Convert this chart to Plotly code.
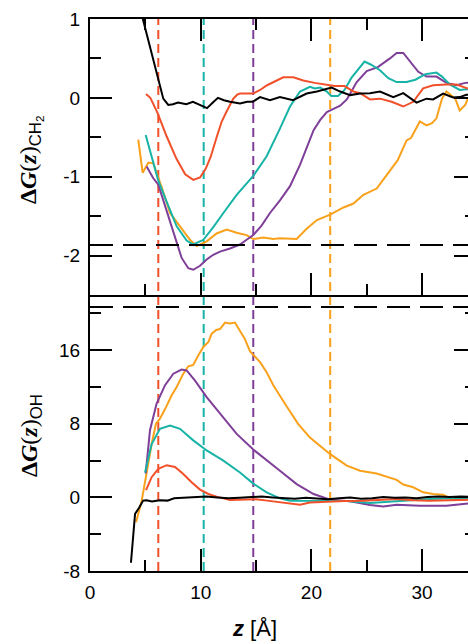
import plotly.graph_objects as go

# ---------------- data ----------------
# top panel: dG_CH2(z)
z_top_black = [4.5, 4.81, 5.69, 6.62, 7.07, 7.5, 7.95, 8.7, 9.3, 10.0, 10.57, 11.1, 11.56, 12.1, 12.65,
               13.55, 14.2, 14.7, 15.36, 16.26, 17.16, 18.34, 19.57, 20.5, 21.83, 22.6, 23.5, 24.4, 25.3,
               26.2, 27.4, 28.3, 29.5, 30.4, 31.0, 31.9, 32.8, 33.4, 34.0, 35.0]
g_top_black = [1.15, 0.98, 0.5, -0.01, -0.09, -0.08, -0.06, -0.08, -0.05, -0.09, -0.13, -0.06, 0.0, -0.03,
               -0.05, -0.07, -0.05, -0.05, 0.01, -0.03, 0.01, -0.03, 0.055, 0.08, 0.13, 0.08, 0.035, 0.055,
               0.06, 0.08, 0.01, 0.06, -0.06, -0.01, -0.02, 0.055, 0.005, 0.01, 0.04, 0.03]

z_top_red = [5.06, 5.45, 6.1, 6.93, 7.8, 8.6, 9.33, 9.94, 10.45, 10.9, 11.44, 11.9, 12.35, 12.95, 13.3, 13.55,
             14.75, 15.36, 16.0, 16.56, 17.46, 18.37, 19.27, 20.3, 21.4, 22.1, 23.0, 23.8, 24.4, 25.3, 26.2,
             27.25, 28.3, 29.2, 30.1, 31.0, 32.2, 33.1, 34.1, 35.0]
g_top_red = [0.05, 0.0, -0.19, -0.49, -0.77, -0.97, -1.04, -1.01, -0.9, -0.75, -0.5, -0.3, -0.17, -0.01,
             0.04, 0.055, 0.055, 0.1, 0.16, 0.2, 0.26, 0.26, 0.22, 0.19, 0.17, 0.15, 0.15, 0.08, 0.06, -0.02,
             -0.01, -0.05, -0.11, -0.05, 0.12, 0.16, 0.17, 0.17, 0.12, 0.1]

z_top_teal = [5.03, 5.57, 6.15, 6.93, 7.83, 8.73, 9.33, 10.24, 11.14, 12.05, 13.25, 14.75, 15.96, 17.16,
              18.07, 18.97, 19.87, 20.3, 20.8, 21.4, 21.8, 22.4, 23.0, 23.6, 24.2, 24.8, 25.4, 26.2, 26.95,
              27.7, 28.6, 29.4, 30.3, 31.3, 31.8, 32.5, 33.4, 34.0, 35.0]
g_top_teal = [-0.47, -0.75, -1.04, -1.32, -1.63, -1.81, -1.86, -1.8, -1.64, -1.46, -1.23, -0.99, -0.74,
              -0.39, -0.11, 0.08, 0.14, 0.12, 0.13, 0.08, 0.025, 0.025, 0.1, 0.25, 0.36, 0.46, 0.42, 0.35,
              0.25, 0.2, 0.2, 0.23, 0.3, 0.32, 0.27, 0.17, 0.1, 0.11, 0.1]

z_top_purple = [5.12, 5.72, 6.17, 6.93, 7.68, 8.28, 8.88, 9.33, 9.94, 10.54, 11.14, 11.74, 12.65, 13.55,
                14.15, 14.75, 15.5, 16.26, 17.16, 18.07, 18.97, 19.57, 20.2, 20.8, 21.4, 22.0, 22.6, 23.2,
                24.1, 25.0, 26.0, 27.1, 27.7, 28.3, 28.9, 29.66, 30.4, 31.3, 32.2, 33.1, 33.9, 35.0]
g_top_purple = [-0.87, -1.02, -1.1, -1.44, -1.76, -2.03, -2.16, -2.18, -2.13, -2.05, -1.99, -1.95, -1.91,
                -1.86, -1.8, -1.74, -1.62, -1.46, -1.3, -1.12, -0.85, -0.64, -0.41, -0.28, -0.18, -0.14,
                -0.1, -0.02, 0.2, 0.34, 0.39, 0.5, 0.57, 0.57, 0.46, 0.33, 0.27, 0.27, 0.19, 0.16, 0.19, 0.2]

z_top_orange = [4.36, 4.76, 5.27, 5.72, 6.47, 7.23, 8.13, 9.03, 9.64, 10.54, 11.44, 12.35, 13.25, 14.15,
                 14.75, 15.66, 16.56, 17.16, 18.67, 19.57, 20.5, 21.7, 22.9, 23.8, 24.7, 25.9, 26.8, 27.8,
                 28.6, 29.0, 29.8, 30.4, 30.9, 31.3, 31.8, 32.2, 33.0, 33.4, 33.9, 34.1, 35.0]
g_top_orange = [-0.53, -0.95, -0.82, -0.83, -1.13, -1.46, -1.63, -1.8, -1.88, -1.82, -1.72, -1.67, -1.71,
                -1.74, -1.79, -1.77, -1.79, -1.78, -1.79, -1.66, -1.55, -1.48, -1.39, -1.34, -1.23, -1.15,
                -0.98, -0.79, -0.54, -0.51, -0.3, -0.35, -0.32, -0.26, -0.01, 0.08, -0.01, -0.16, -0.09,
                -0.02, 0.05]

# bottom panel: dG_OH(z)
z_bot_black = [3.7, 4.07, 4.45, 4.8, 5.1, 5.6, 6.3, 7.0, 7.6, 8.5, 9.5, 10.5, 11.5, 12.5, 13.5, 14.5, 15.5,
               16.5, 17.5, 18.5, 19.5, 20.5, 21.5, 22.5, 23.5, 24.5, 25.5, 26.5, 27.5, 28.5, 29.5, 30.5,
               31.5, 32.5, 33.5, 35.0]
g_bot_black = [-7.1, -1.8, -1.1, -0.35, -0.3, -0.45, -0.3, -0.35, -0.1, -0.05, 0.05, 0.1, 0.0, -0.1, -0.05,
               0.05, 0.1, 0.0, -0.1, -0.15, -0.05, -0.1, -0.2, -0.1, 0.0, -0.15, -0.1, 0.05, -0.05, 0.0,
               -0.1, 0.05, 0.1, 0.05, 0.1, 0.05]

z_bot_red = [5.06, 5.57, 6.17, 6.93, 7.68, 8.43, 9.18, 9.94, 10.7, 11.44, 12.65, 13.85, 15.0, 16.0, 17.16,
             18.2, 18.97, 19.87, 21.7, 23.0, 24.7, 26.2, 27.7, 29.2, 30.7, 32.5, 34.0, 35.0]
g_bot_red = [0.8, 2.2, 3.1, 3.5, 3.3, 2.55, 1.65, 0.85, 0.37, 0.08, -0.28, -0.28, -0.2, -0.35, -0.55,
             -0.72, -0.8, -0.55, -0.43, -0.4, -0.36, -0.25, -0.18, -0.3, -0.36, -0.3, -0.28, -0.25]

z_bot_teal = [4.97, 5.57, 6.32, 7.23, 8.13, 9.33, 10.54, 12.05, 13.55, 14.75, 15.96, 17.16, 18.07, 20.2,
              23.2, 25.3, 27.7, 30.7, 34.0, 35.0]
g_bot_teal = [2.7, 5.8, 7.45, 7.8, 7.45, 6.2, 5.1, 4.0, 2.7, 1.5, 0.55, -0.1, -0.36, -0.36, -0.4, -0.6,
              -0.43, -0.18, -0.07, -0.05]

z_bot_purple = [5.03, 5.42, 6.02, 6.78, 7.53, 8.28, 8.73, 9.49, 10.54, 11.74, 13.25, 14.75, 15.96, 17.16,
                18.67, 20.2, 21.7, 23.5, 25.3, 26.5, 27.7, 29.8, 32.2, 34.1, 35.0]
g_bot_purple = [2.6, 7.3, 10.2, 12.2, 13.45, 13.9, 13.8, 12.7, 10.9, 9.1, 6.9, 5.2, 4.0, 2.9, 1.45, 0.37,
                -0.25, -0.43, -0.83, -0.98, -0.8, -0.9, -0.9, -0.6, -0.55]

z_bot_orange = [4.16, 4.67, 5.12, 5.57, 5.96, 6.32, 6.78, 7.38, 7.83, 8.43, 8.88, 9.33, 9.79, 10.24, 10.7,
                11.0, 11.4, 11.74, 12.2, 12.65, 13.1, 13.55, 14.0, 14.45, 15.36, 15.96, 16.56, 17.6, 18.8,
                19.87, 21.7, 23.2, 24.4, 25.9, 26.8, 27.7, 28.3, 29.2, 30.1, 31.0, 31.9, 32.7, 33.4, 34.1,
                35.0]
g_bot_orange = [-2.7, -0.36, 2.7, 5.8, 8.0, 8.55, 9.6, 11.1, 12.0, 13.45, 14.25, 14.4, 15.45, 16.35, 16.9,
                17.8, 18.2, 18.3, 19.0, 18.9, 19.0, 18.1, 17.2, 15.9, 14.7, 13.6, 12.2, 10.2, 8.0, 6.5, 4.7,
                3.45, 2.9, 2.6, 2.25, 1.9, 1.4, 1.1, 0.55, 0.37, 0.3, -0.18, -0.28, -0.18, -0.1]

# reference lines
vline_z = [6.17, 10.27, 14.75, 21.7]
hline_top = -1.865
hline_bot = 20.7

# axis ticks
x_ticks = [0, 10, 20, 30]
x_ticktext = ["0", "10", "20", "30"]
x_minor = [5, 15, 25, 35]
top_ticks = [-2, -1, 0, 1]
top_ticktext = ["-2", "-1", "0", "1"]
top_minor = [-1.5, -0.5, 0.5]
bot_ticks = [-8, 0, 8, 16]
bot_ticktext = ["-8", "0", "8", "16"]
bot_minor = [-4, 4, 12, 20]

# ---------------- style ----------------
C_BLACK = "#000000"
C_RED = "#F1502A"
C_TEAL = "#17B3A6"
C_PURPLE = "#7F3F98"
C_ORANGE = "#F9A11B"
vline_colors = [C_RED, C_TEAL, C_PURPLE, C_ORANGE]

TICKFONT = dict(family="Liberation Sans, Arial, sans-serif", size=19, color="black")

fig = go.Figure()

def add(z, g, color, ax):
    xa, ya = ("x", "y") if ax == 1 else ("x2", "y2")
    fig.add_trace(go.Scatter(x=z, y=g, mode="lines", xaxis=xa, yaxis=ya,
                             line=dict(color=color, width=2), showlegend=False, hoverinfo="skip"))

add(z_top_orange, g_top_orange, C_ORANGE, 1)
add(z_top_purple, g_top_purple, C_PURPLE, 1)
add(z_top_teal, g_top_teal, C_TEAL, 1)
add(z_top_red, g_top_red, C_RED, 1)
add(z_top_black, g_top_black, C_BLACK, 1)

add(z_bot_orange, g_bot_orange, C_ORANGE, 2)
add(z_bot_purple, g_bot_purple, C_PURPLE, 2)
add(z_bot_teal, g_bot_teal, C_TEAL, 2)
add(z_bot_red, g_bot_red, C_RED, 2)
add(z_bot_black, g_bot_black, C_BLACK, 2)

# invisible traces to register right-side tick axes
fig.add_trace(go.Scatter(x=[None], y=[None], xaxis="x", yaxis="y3", showlegend=False, hoverinfo="skip"))
fig.add_trace(go.Scatter(x=[None], y=[None], xaxis="x2", yaxis="y4", showlegend=False, hoverinfo="skip"))

shapes = []
for zv, col in zip(vline_z, vline_colors):
    shapes.append(dict(type="line", xref="x", yref="paper", x0=zv, x1=zv, y0=0, y1=1,
                       line=dict(color=col, width=2, dash="9px,5px"), layer="below"))
shapes.append(dict(type="line", xref="x domain", yref="y", x0=0, x1=1, y0=hline_top, y1=hline_top,
                   line=dict(color="black", width=2, dash="23px,10px"), layer="above"))
shapes.append(dict(type="line", xref="x2 domain", yref="y2", x0=0, x1=1, y0=hline_bot, y1=hline_bot,
                   line=dict(color="black", width=2, dash="23px,10px"), layer="above"))

XRANGE = [0, 34.15]
common_x = dict(range=XRANGE, showgrid=False, zeroline=False, showline=True, linecolor="black",
                linewidth=2, ticks="inside", ticklen=22, tickwidth=2, tickcolor="black",
                tickmode="array", tickvals=x_ticks, ticktext=x_ticktext, tickfont=TICKFONT,
                minor=dict(tickmode="array", tickvals=x_minor, ticks="inside", ticklen=11, tickwidth=2,
                           tickcolor="black", showgrid=False))
common_y = dict(showgrid=False, zeroline=False, showline=True, linecolor="black", linewidth=2,
                ticks="inside", ticklen=22, tickwidth=2, tickcolor="black", tickfont=TICKFONT,
                tickmode="array", ticklabelstandoff=4)

fig.update_layout(
    width=468, height=644,
    margin=dict(l=90, r=0, t=19, b=73),
    paper_bgcolor="white", plot_bgcolor="white",
    showlegend=False,
    xaxis=dict(common_x, anchor="y", domain=[0, 1], mirror="ticks", showticklabels=False),
    xaxis2=dict(common_x, anchor="y2", domain=[0, 1], matches="x", showticklabels=True,
                ticklabelstandoff=3),
    yaxis=dict(common_y, anchor="x", domain=[0.5, 1], range=[-2.5, 1], tickvals=top_ticks,
               ticktext=top_ticktext,
               minor=dict(tickmode="array", tickvals=top_minor, ticks="inside", ticklen=11, tickwidth=2,
                          tickcolor="black", showgrid=False)),
    yaxis2=dict(common_y, anchor="x2", domain=[0, 0.5], range=[-8, 22], tickvals=bot_ticks,
                ticktext=bot_ticktext,
                minor=dict(tickmode="array", tickvals=bot_minor, ticks="inside", ticklen=11, tickwidth=2,
                           tickcolor="black", showgrid=False)),
    yaxis3=dict(overlaying="y", side="right", anchor="x", range=[-2.5, 1], showgrid=False, zeroline=False,
                showline=False, ticks="inside", ticklen=14, tickwidth=2, tickcolor="black",
                tickmode="array", tickvals=top_ticks, showticklabels=False,
                minor=dict(tickmode="array", tickvals=top_minor, ticks="inside", ticklen=3, tickwidth=2,
                           tickcolor="black", showgrid=False)),
    yaxis4=dict(overlaying="y2", side="right", anchor="x2", range=[-8, 22], showgrid=False, zeroline=False,
                showline=False, ticks="inside", ticklen=14, tickwidth=2, tickcolor="black",
                tickmode="array", tickvals=bot_ticks, showticklabels=False,
                minor=dict(tickmode="array", tickvals=bot_minor, ticks="inside", ticklen=3, tickwidth=2,
                           tickcolor="black", showgrid=False)),
    shapes=shapes,
)

SERIF = "Liberation Serif, Times New Roman, serif"
SANS = "Liberation Sans, Arial, sans-serif"
fig.add_annotation(xref="paper", yref="paper", x=-0.158, y=0.745, showarrow=False, textangle=-90,
                   xanchor="center", yanchor="middle",
                   text='<b>Δ<i>G</i></b>(<b><i>z</i></b>)<span style="font-family:%s"><sub>CH<sub>2</sub></sub></span>' % SANS,
                   font=dict(family=SERIF, size=24, color="black"))
fig.add_annotation(xref="paper", yref="paper", x=-0.158, y=0.245, showarrow=False, textangle=-90,
                   xanchor="center", yanchor="middle",
                   text='<b>Δ<i>G</i></b>(<b><i>z</i></b>)<span style="font-family:%s"><sub>OH</sub></span>' % SANS,
                   font=dict(family=SERIF, size=24, color="black"))
fig.add_annotation(xref="paper", yref="paper", x=0.434, y=-0.078, showarrow=False,
                   xanchor="center", yanchor="top",
                   text='<b><i>z</i></b> [Å]',
                   font=dict(family=SANS, size=22, color="black"))

fig.write_html("out.html")
